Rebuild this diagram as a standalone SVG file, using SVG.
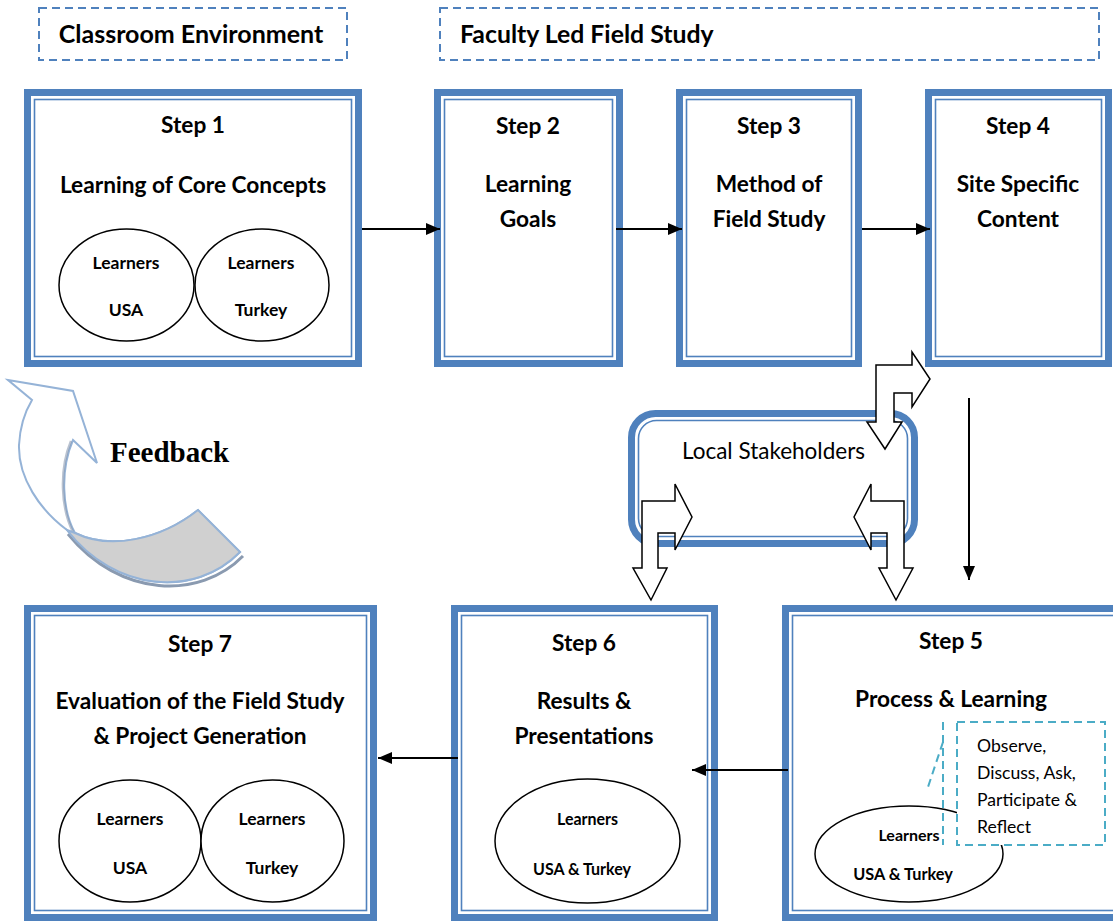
<svg xmlns="http://www.w3.org/2000/svg" width="1113" height="921" viewBox="0 0 1113 921">
<style>
.band{fill:#fff;stroke:#4F81BD;stroke-width:7}
.thin{fill:none;stroke:#4F81BD;stroke-width:1.6}
.hdr{fill:none;stroke:#4F81BD;stroke-width:2;stroke-dasharray:8 5}
.t{font-family:Lato,"Liberation Sans",sans-serif;font-weight:bold;fill:#000;text-anchor:middle}
.big{font-size:22.7px}
.sm{font-size:17.5px}
.r{font-family:Lato,"Liberation Sans",sans-serif;fill:#000}
.ell{fill:#fff;stroke:#000;stroke-width:1.5}
.conn{stroke:#000;stroke-width:2;fill:none}
.blk{fill:#fff;stroke:#000;stroke-width:1.5;stroke-linejoin:miter}
</style>
<defs>
<marker id="ah2" viewBox="0 0 14 12" refX="14" refY="6" markerWidth="14" markerHeight="12" orient="auto" markerUnits="userSpaceOnUse">
<path d="M0,0 L14,6 L0,12 Z" fill="#000"/>
</marker>
</defs>

<g id="hdr-classroom">
<rect class="hdr" x="39" y="8" width="308" height="52"/>
<text class="t" x="191" y="43" style="font-size:25px">Classroom Environment</text>
</g>
<g id="hdr-faculty">
<rect class="hdr" x="440" y="8" width="659" height="52"/>
<text class="t" x="460" y="43" style="font-size:24.8px;text-anchor:start">Faculty Led Field Study</text>
</g>

<g id="step1">
<rect class="band" x="27.5" y="92.5" width="331" height="271"/>
<rect class="thin" x="34.5" y="99.5" width="317" height="257"/>
<text class="t big" x="193" y="133">Step 1</text>
<text class="t big" x="193" y="193">Learning of Core Concepts</text>
<ellipse class="ell" cx="126.5" cy="285" rx="67.5" ry="56"/>
<ellipse class="ell" cx="262" cy="285" rx="67" ry="56"/>
<text class="t sm" x="126" y="269">Learners</text>
<text class="t sm" x="126" y="316">USA</text>
<text class="t sm" x="261" y="269">Learners</text>
<text class="t sm" x="261" y="316">Turkey</text>
</g>

<g id="step2">
<rect class="band" x="437.5" y="92.5" width="182" height="271"/>
<rect class="thin" x="444.5" y="99.5" width="168" height="257"/>
<text class="t big" x="528" y="134">Step 2</text>
<text class="t big" x="528" y="192">Learning</text>
<text class="t big" x="528" y="227">Goals</text>
</g>

<g id="step3">
<rect class="band" x="679.5" y="92.5" width="179" height="271"/>
<rect class="thin" x="686.5" y="99.5" width="165" height="257"/>
<text class="t big" x="769" y="134">Step 3</text>
<text class="t big" x="769" y="192">Method of</text>
<text class="t big" x="769" y="227">Field Study</text>
</g>

<g id="step4">
<rect class="band" x="928.5" y="92.5" width="180" height="271"/>
<rect class="thin" x="935.5" y="99.5" width="166" height="257"/>
<text class="t big" x="1018" y="134">Step 4</text>
<text class="t big" x="1018" y="192">Site Specific</text>
<text class="t big" x="1018" y="227">Content</text>
</g>

<g id="stakeholders">
<rect class="band" x="631.5" y="413.5" width="283" height="130" rx="24"/>
<rect class="thin" x="638.5" y="420.5" width="269" height="116" rx="18"/>
<text class="r" x="773.5" y="459" style="font-size:22.5px;text-anchor:middle">Local Stakeholders</text>
</g>

<g id="step7">
<rect class="band" x="27.5" y="608.5" width="346" height="309"/>
<rect class="thin" x="34.5" y="615.5" width="332" height="295"/>
<text class="t big" x="200" y="652">Step 7</text>
<text class="t big" x="200" y="709">Evaluation of the Field Study</text>
<text class="t big" x="200" y="744">&amp; Project Generation</text>
<ellipse class="ell" cx="130" cy="841" rx="71" ry="61"/>
<ellipse class="ell" cx="272.5" cy="841" rx="71.5" ry="61"/>
<text class="t sm" x="130" y="825">Learners</text>
<text class="t sm" x="130" y="874">USA</text>
<text class="t sm" x="272" y="825">Learners</text>
<text class="t sm" x="272" y="874">Turkey</text>
</g>

<g id="step6">
<rect class="band" x="454.5" y="608.5" width="260" height="309"/>
<rect class="thin" x="461.5" y="615.5" width="246" height="295"/>
<text class="t big" x="584" y="651">Step 6</text>
<text class="t big" x="584" y="709">Results &amp;</text>
<text class="t big" x="584" y="744">Presentations</text>
<ellipse class="ell" cx="587.5" cy="841" rx="92.5" ry="62"/>
<text class="t" x="587.5" y="825" style="font-size:17px" textLength="61" lengthAdjust="spacingAndGlyphs">Learners</text>
<text class="t" x="582" y="875" style="font-size:17px" textLength="98" lengthAdjust="spacingAndGlyphs">USA &amp; Turkey</text>
</g>

<g id="step5">
<rect class="band" x="785.5" y="608.5" width="340" height="309"/>
<rect class="thin" x="792.5" y="615.5" width="326" height="295"/>
<text class="t big" x="951" y="649">Step 5</text>
<text class="t big" x="951" y="707">Process &amp; Learning</text>
<ellipse class="ell" cx="909" cy="854" rx="94" ry="48"/>
<text class="t" x="909" y="841" style="font-size:16px">Learners</text>
<text class="t" x="903" y="880" style="font-size:16.3px">USA &amp; Turkey</text>
</g>

<g id="callout">
<line x1="943" y1="722" x2="943" y2="845" stroke="#4BACC6" stroke-width="2" stroke-dasharray="8 5"/>
<line x1="943" y1="742" x2="927" y2="790" stroke="#4BACC6" stroke-width="2" stroke-dasharray="8 5"/>
<rect x="957" y="722" width="148" height="123" fill="#fff" stroke="#4BACC6" stroke-width="2" stroke-dasharray="8 5"/>
<text class="r" x="977" y="752" style="font-size:17.6px">Observe,</text>
<text class="r" x="977" y="779" style="font-size:17.6px">Discuss, Ask,</text>
<text class="r" x="977" y="806" style="font-size:17.6px">Participate &amp;</text>
<text class="r" x="977" y="833" style="font-size:17.6px">Reflect</text>
</g>

<g id="feedback">
<path d="M243,556 C200,600 120,598 68,534" fill="none" stroke="#8a9ab0" stroke-width="3"/>
<path d="M8,380 L73,391 L97,463 L73,440 C60,470 62,510 75,533 C110,550 160,540 198,510 L240,552 C195,598 115,592 67,530 C40,510 18,478 19,445 C20,425 26,410 32,400 Z" fill="#fff" stroke="#95B3D7" stroke-width="2" stroke-linejoin="miter"/>
<path d="M73,441 C61,470 63,508 75,532" fill="none" stroke="#8a9ab0" stroke-width="2.5" opacity="0.6" transform="translate(-2,0)"/>
<path d="M75,533 C110,550 160,540 198,510 L240,552 C195,598 115,592 67,530 Z" fill="#D0D0D0" stroke="#95B3D7" stroke-width="2"/>
<text x="110" y="462" style="font-family:'Liberation Serif',serif;font-weight:bold;font-size:29px">Feedback</text>
</g>

<g id="connectors">
<line class="conn" x1="362" y1="229" x2="440" y2="229" marker-end="url(#ah2)"/>
<line class="conn" x1="616" y1="229" x2="682" y2="229" marker-end="url(#ah2)"/>
<line class="conn" x1="862" y1="229" x2="930" y2="229" marker-end="url(#ah2)"/>
<line class="conn" x1="969" y1="398" x2="969" y2="580" marker-end="url(#ah2)"/>
<line class="conn" x1="788" y1="770" x2="692" y2="770" marker-end="url(#ah2)"/>
<line class="conn" x1="458" y1="758" x2="378" y2="758" marker-end="url(#ah2)"/>
<polygon class="blk" points="876,422 876,365 912,365 912,352 930,379 912,407 912,393 894,393 894,422 902,422 885,449 867,422"/>
<polygon class="blk" points="642,568 642,501 675,501 675,484 692,517 675,550 675,533 658,533 658,568 667,568 651,600 633,568"/>
<polygon class="blk" points="904,568 904,501 871,501 871,484 854,517 871,550 871,533 887,533 887,568 879,568 896,600 913,568"/>
</g>
</svg>
